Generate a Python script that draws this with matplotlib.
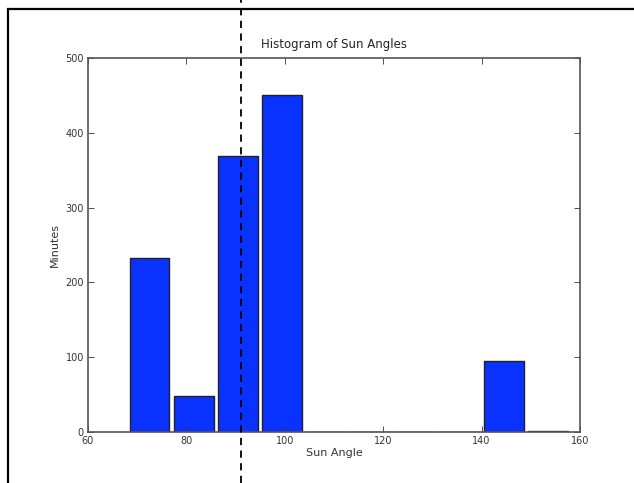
import matplotlib
matplotlib.use("Agg")
import matplotlib.pyplot as plt
from matplotlib.lines import Line2D
from matplotlib.patches import Rectangle

# histogram of sun angles (10 bins, 68..158)
bin_edges = [68, 77, 86, 95, 104, 113, 122, 131, 140, 149, 158]
minutes = [233, 48, 369, 451, 0, 0, 0, 0, 95, 2]
marker_angle_px = 241  # dashed marker line, figure pixels

fig = plt.figure(figsize=(6.34, 4.83), dpi=100)
ax = fig.add_axes([88 / 634, 51 / 483, 492 / 634, 374 / 483])

ax.hist(bin_edges[:-1], bins=bin_edges, weights=minutes, rwidth=0.9,
        color='#0a32ff', edgecolor='#222222', linewidth=1.0)

ax.set_xlim(60, 160)
ax.set_ylim(0, 500)
ax.set_xticks(range(60, 161, 20))
ax.set_yticks(range(0, 501, 100))
ax.tick_params(direction='in', top=True, right=True, labelsize=7,
               colors='#333333', length=4, width=0.6, pad=3)
for s in ax.spines.values():
    s.set_color('#555555')
    s.set_linewidth(1.2)

ax.set_title('Histogram of Sun Angles', fontsize=8.5, color='#222222', pad=7)
ax.set_xlabel('Sun Angle', fontsize=8, color='#333333', labelpad=1)
ax.set_ylabel('Minutes', fontsize=8, color='#333333', labelpad=4)

# screenshot frame and dashed marker line
fig.patches.append(Rectangle((8 / 634, -0.1), 1.2, 1.1 - 9 / 483 + 0.0,
                             transform=fig.transFigure, fill=False,
                             edgecolor='black', linewidth=1.6))
fig.lines.append(Line2D([marker_angle_px / 634] * 2, [0, 1],
                        transform=fig.transFigure, color='black',
                        linestyle=(0, (4, 3)), linewidth=1.3))

fig.savefig('out.png', dpi=100)
